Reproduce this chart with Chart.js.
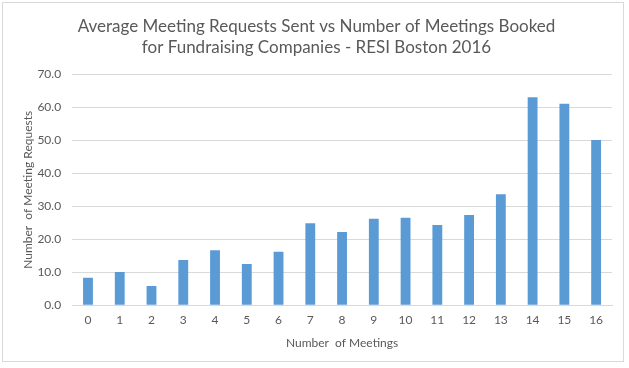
<!DOCTYPE html>
<html>
<head>
<meta charset="utf-8">
<script src="https://cdn.jsdelivr.net/npm/chart.js@4"></script>
<style>
  html, body { margin: 0; padding: 0; background: #fff; }
  #wrap { position: absolute; left: 2px; top: 2px; width: 622px; height: 360px; border: 1px solid #d9d9d9; box-sizing: border-box; }
  #chart { position: absolute; left: 0; top: 0; }
</style>
</head>
<body>
<div id="wrap"><canvas id="chart" width="622" height="360"></canvas></div>
<script>
// 会議数ごとの平均リクエスト数
const meetings = ['0', '1', '2', '3', '4', '5', '6', '7', '8', '9', '10', '11', '12', '13', '14', '15', '16'];
const avgRequests = [8.3, 10.1, 5.8, 13.7, 16.7, 12.5, 16.2, 24.9, 22.2, 26.2, 26.5, 24.3, 27.4, 33.7, 63.1, 61.1, 50.1];
const titleLines = ['Average Meeting Requests Sent vs Number of Meetings Booked', 'for Fundraising Companies - RESI Boston 2016'];

const txt = '#595959';
const grid = '#d9d9d9';

new Chart(document.getElementById('chart'), {
  type: 'bar',
  data: {
    labels: meetings,
    datasets: [{
      label: 'Average Meeting Requests',
      data: avgRequests,
      backgroundColor: '#5b9bd5',
      borderWidth: 0,
      categoryPercentage: 1,
      barPercentage: 0.31
    }]
  },
  options: {
    responsive: false,
    animation: false,
    layout: { padding: { left: 18, right: 13, top: 8, bottom: 9 } },
    plugins: {
      legend: { display: false },
      tooltip: { enabled: false },
      title: {
        display: true,
        text: titleLines,
        color: txt,
        font: { family: 'Lato', size: 17, weight: 'normal', lineHeight: 1.25 },
        padding: { top: 5, bottom: 16 }
      }
    },
    scales: {
      x: {
        grid: { display: false, drawTicks: false },
        border: { display: true, color: grid },
        ticks: { color: txt, font: { family: 'Lato', size: 12 }, padding: 8 },
        title: { display: true, text: 'Number  of Meetings', color: txt, font: { family: 'Lato', size: 12 }, padding: { top: 0 } }
      },
      y: {
        min: 0,
        max: 70,
        grid: { color: grid, drawTicks: false },
        border: { display: false },
        ticks: {
          stepSize: 10,
          color: txt,
          font: { family: 'Lato', size: 12 },
          padding: 11,
          callback: v => v.toFixed(1)
        },
        title: { display: true, text: 'Number  of Meeting Requests', color: txt, font: { family: 'Lato', size: 12 }, padding: { top: 0, bottom: -9 } }
      }
    }
  }
});
</script>
</body>
</html>
